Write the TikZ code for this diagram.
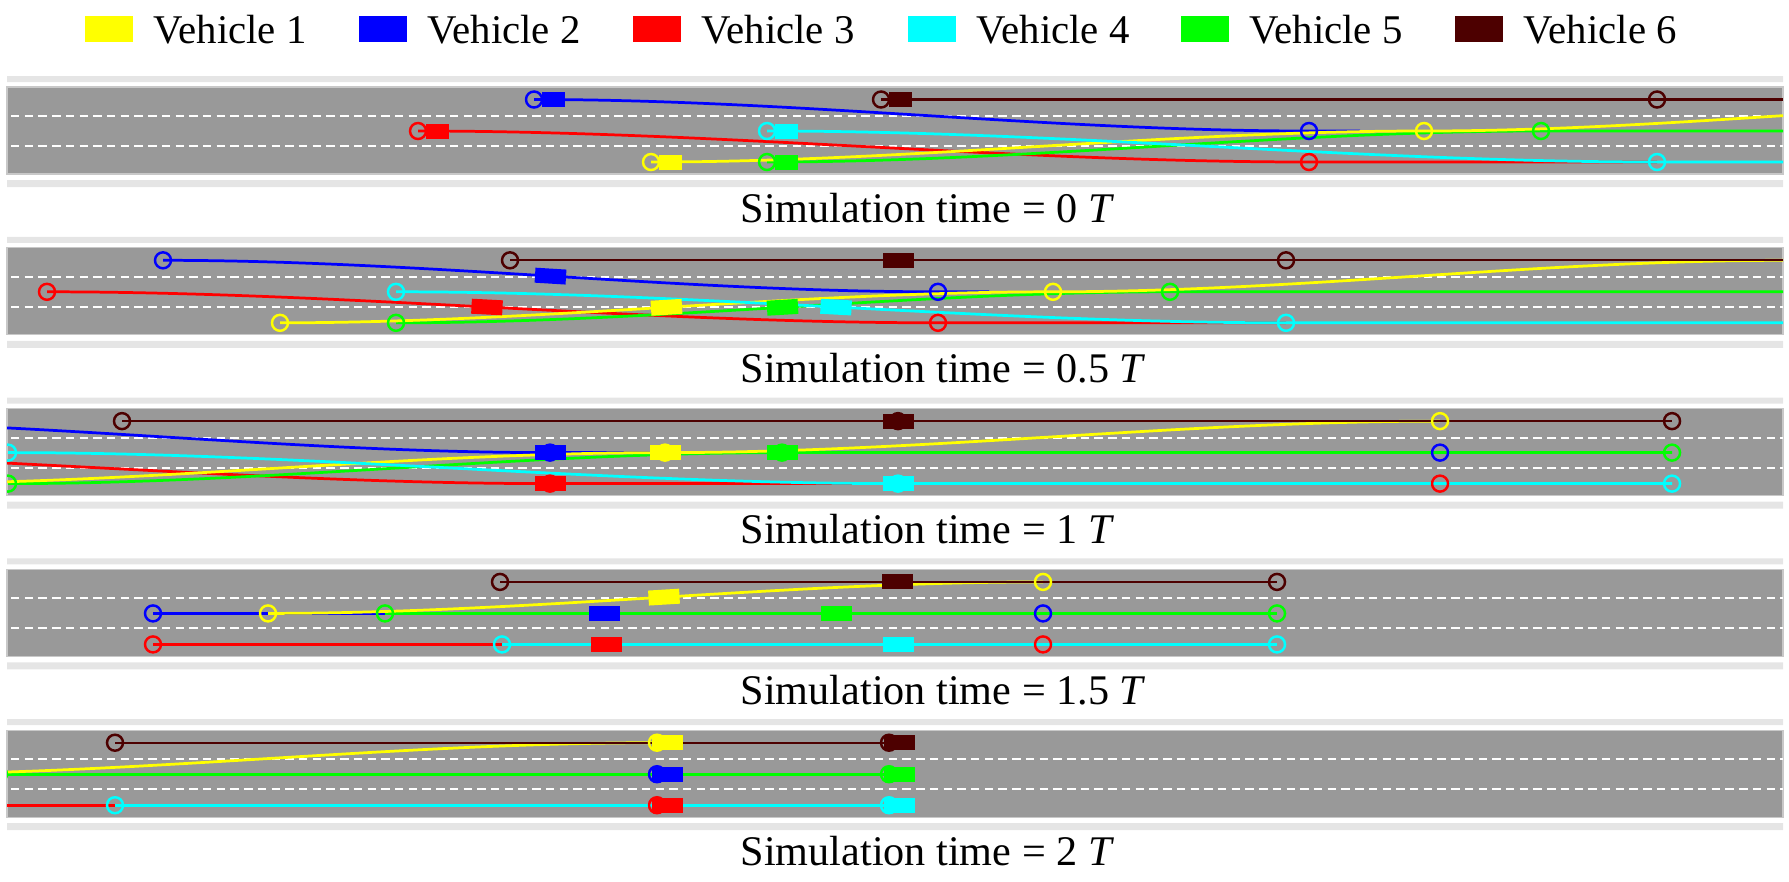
\documentclass[tikz,border=0pt]{standalone}
\usepackage{fontspec}
\setmainfont{Liberation Serif}

\definecolor{vone}{RGB}{255,255,0}
\definecolor{vtwo}{RGB}{0,0,255}
\definecolor{vthree}{RGB}{255,0,0}
\definecolor{vfour}{RGB}{0,255,255}
\definecolor{vfive}{RGB}{0,255,0}
\definecolor{vsix}{RGB}{77,0,0}
\definecolor{roadgray}{RGB}{153,153,153}
\definecolor{roadedge}{RGB}{200,200,200}
\definecolor{stripgray}{RGB}{229,229,229}

\def\ya{12.5}
\def\yb{44}
\def\yc{75}

\begin{document}
\begin{tikzpicture}[x=0.01cm, y=-0.01cm,
  traj/.style={line width=0.78pt},
  ring/.style={line width=0.7pt},
  car/.style={rectangle, inner sep=0pt, minimum width=0.31cm, minimum height=0.15cm},
  lchg/.style={out=0, in=180, looseness=0.85},
  lanemark/.style={white, line width=0.55pt, dash pattern=on 2.4pt off 1.5pt},
  captxt/.style={anchor=base west, inner sep=0pt, font=\fontsize{12}{14}\selectfont},
  legtxt/.style={anchor=base west, inner sep=0pt, font=\fontsize{11.6}{14}\selectfont}]
  \useasboundingbox (0,0) rectangle (1789,881);

  % legend
  \foreach \i/\c/\x in {1/vone/85, 2/vtwo/359, 3/vthree/633, 4/vfour/908, 5/vfive/1181, 6/vsix/1455}{
    \fill[fill=\c] (\x,16) rectangle ++(48,26);
    \node[legtxt] (leg\i) at (\x+68,43) {Vehicle \i};
  }

  % roads and captions
  \foreach \t/\lab [count=\k] in {87/0, 247.8/0.5, 408.6/1, 569.4/1.5, 730.2/2}{
    \begin{scope}[shift={(0,\t)}]
      \fill[stripgray] (7,-11) rectangle (1783,-5) (7,93) rectangle (1783,100);
      \filldraw[fill=roadgray, draw=roadedge, line width=0.35pt] (7,0) rectangle (1783,87);
      \draw[lanemark] (11,29) -- (1783,29) (11,59) -- (1783,59);
      \node[captxt] (cap\k) at (740,135) {Simulation time = \lab\ \textit{T}};
    \end{scope}
  }

  % 0 T
  \begin{scope}[shift={(0,87)}]
    \clip (7,0) rectangle (1783,87);
    \draw[traj, vthree] (418,\yb) to[lchg] (1309,\yc) -- (1657,\yc);
    \draw[traj, vtwo] (534,\ya) to[lchg] (1309,\yb) -- (1360,\yb);
    \draw[traj, vfive] (767,\yc) to[lchg] (1541,\yb) -- (1783,\yb);
    \draw[traj, vone] (651,\yc) to[lchg] (1424,\yb) to[lchg] (2154,\ya);
    \draw[traj, vfour] (767,\yb) to[lchg] (1657,\yc) -- (1783,\yc);
    \draw[traj, vsix, line width=0.6pt] (881,\ya) -- (1783,\ya);
    \foreach \c/\x/\y [count=\k] in {vthree/437.5/\yb, vtwo/553.5/\ya, vone/670.5/\yc, vfour/786.5/\yb, vfive/786.5/\yc, vsix/900.5/\ya}
      \node[car, fill=\c, minimum width=0.23cm] (a\k) at (\x,\y) {};
    \foreach \c/\x/\y in {vthree/418/\yb, vtwo/534/\ya, vone/651/\yc, vfour/767/\yb, vfive/767/\yc, vsix/881/\ya,
                          vtwo/1309/\yb, vthree/1309/\yc, vone/1424/\yb, vfive/1541/\yb, vfour/1657/\yc, vsix/1657/\ya}
      \draw[ring, draw=\c] (\x,\y) circle[radius=0.08cm];
  \end{scope}

  % 0.5 T
  \begin{scope}[shift={(0,247.8)}]
    \clip (7,0) rectangle (1783,87);
    \draw[traj, vthree] (47,\yb) to[lchg] (938,\yc) -- (1286,\yc);
    \draw[traj, vtwo] (163,\ya) to[lchg] (938,\yb) -- (989,\yb);
    \draw[traj, vfive] (396,\yc) to[lchg] (1170,\yb) -- (1783,\yb);
    \draw[traj, vone] (280,\yc) to[lchg] (1053,\yb) to[lchg] (1783,\ya);
    \draw[traj, vfour] (396,\yb) to[lchg] (1286,\yc) -- (1783,\yc);
    \draw[traj, vsix, line width=0.6pt] (510,\ya) -- (1783,\ya);
    \node[car, fill=vthree, rotate=-3] (b1) at (487,59.2) {};
    \node[car, fill=vtwo, rotate=-3.5] (b2) at (550.5,28.3) {};
    \node[car, fill=vone, rotate=3.5] (b3) at (666.5,59.5) {};
    \node[car, fill=vfour, rotate=-3] (b4) at (836,59.3) {};
    \node[car, fill=vfive, rotate=3.4] (b5) at (782.5,59.5) {};
    \node[car, fill=vsix] (b6) at (898,\ya) {};
    \foreach \c/\x/\y in {vthree/47/\yb, vtwo/163/\ya, vone/280/\yc, vfour/396/\yb, vfive/396/\yc, vsix/510/\ya,
                          vtwo/938/\yb, vthree/938/\yc, vone/1053/\yb, vfive/1170/\yb, vfour/1286/\yc, vsix/1286/\ya}
      \draw[ring, draw=\c] (\x,\y) circle[radius=0.08cm];
  \end{scope}

  % 1 T
  \begin{scope}[shift={(0,408.6)}]
    \clip (7,0) rectangle (1783,87);
    \draw[traj, vthree] (-341,\yb) to[lchg] (550,\yc) -- (1440,\yc);
    \draw[traj, vtwo] (-225,\ya) to[lchg] (550,\yb) -- (1440,\yb);
    \draw[traj, vfive] (8,\yc) to[lchg] (782,\yb) -- (1672,\yb);
    \draw[traj, vone] (-108,\yc) to[lchg] (665,\yb) to[lchg] (1440,\ya);
    \draw[traj, vfour] (8,\yb) to[lchg] (898,\yc) -- (1672,\yc);
    \draw[traj, vsix, line width=0.6pt] (122,\ya) -- (1672,\ya);
    \foreach \c/\x/\y [count=\k] in {vthree/550/\yc, vtwo/550/\yb, vone/665/\yb, vfour/898/\yc, vfive/782/\yb, vsix/898/\ya}{
      \node[car, fill=\c] (c\k) at (\x,\y) {};
      \draw[ring, draw=\c] (\x,\y) circle[radius=0.08cm];
    }
    \foreach \c/\x/\y in {vsix/122/\ya, vfour/8/\yb, vfive/8/\yc,
                          vone/1440/\ya, vtwo/1440/\yb, vthree/1440/\yc, vsix/1672/\ya, vfive/1672/\yb, vfour/1672/\yc}
      \draw[ring, draw=\c] (\x,\y) circle[radius=0.08cm];
  \end{scope}

  % 1.5 T
  \begin{scope}[shift={(0,569.4)}]
    \clip (7,0) rectangle (1783,87);
    \draw[traj, vthree] (153,\yc) -- (1043,\yc);
    \draw[traj, vtwo] (153,\yb) -- (1043,\yb);
    \draw[traj, vfive] (385,\yb) -- (1277,\yb);
    \draw[traj, vone] (268,\yb) to[lchg] (1043,\ya);
    \draw[traj, vfour] (502,\yc) -- (1277,\yc);
    \draw[traj, vsix, line width=0.6pt] (500,\ya) -- (1277,\ya);
    \node[car, fill=vthree] (d1) at (606,\yc) {};
    \node[car, fill=vtwo] (d2) at (604,\yb) {};
    \node[car, fill=vone, rotate=3.5] (d3) at (664,27.7) {};
    \node[car, fill=vfour] (d4) at (898,\yc) {};
    \node[car, fill=vfive] (d5) at (836,\yb) {};
    \node[car, fill=vsix] (d6) at (897,\ya) {};
    \foreach \c/\x/\y in {vtwo/153/\yb, vthree/153/\yc, vone/268/\yb, vfive/385/\yb, vsix/500/\ya, vfour/502/\yc,
                          vone/1043/\ya, vtwo/1043/\yb, vthree/1043/\yc, vsix/1277/\ya, vfive/1277/\yb, vfour/1277/\yc}
      \draw[ring, draw=\c] (\x,\y) circle[radius=0.08cm];
  \end{scope}

  % 2 T
  \begin{scope}[shift={(0,730.2)}]
    \clip (7,0) rectangle (1783,87);
    \draw[traj, vthree] (-233,\yc) -- (657,\yc);
    \draw[traj, vtwo] (-233,\yb) -- (657,\yb);
    \draw[traj, vfive] (-1,\yb) -- (889,\yb);
    \draw[traj, vone] (-118,\yb) to[lchg] (657,\ya);
    \draw[traj, vfour] (115,\yc) -- (889,\yc);
    \draw[traj, vsix, line width=0.6pt] (115,\ya) -- (889,\ya);
    \foreach \c/\x/\y [count=\k] in {vthree/667/\yc, vtwo/667/\yb, vone/667/\ya, vfour/899/\yc, vfive/899/\yb, vsix/899/\ya}{
      \node[car, fill=\c] (e\k) at (\x,\y) {};
      \draw[ring, draw=\c] (\x-10,\y) circle[radius=0.08cm];
    }
    \foreach \c/\x/\y in {vsix/115/\ya, vfour/115/\yc, vfive/-1/\yb}
      \draw[ring, draw=\c] (\x,\y) circle[radius=0.08cm];
  \end{scope}
\end{tikzpicture}
\end{document}
